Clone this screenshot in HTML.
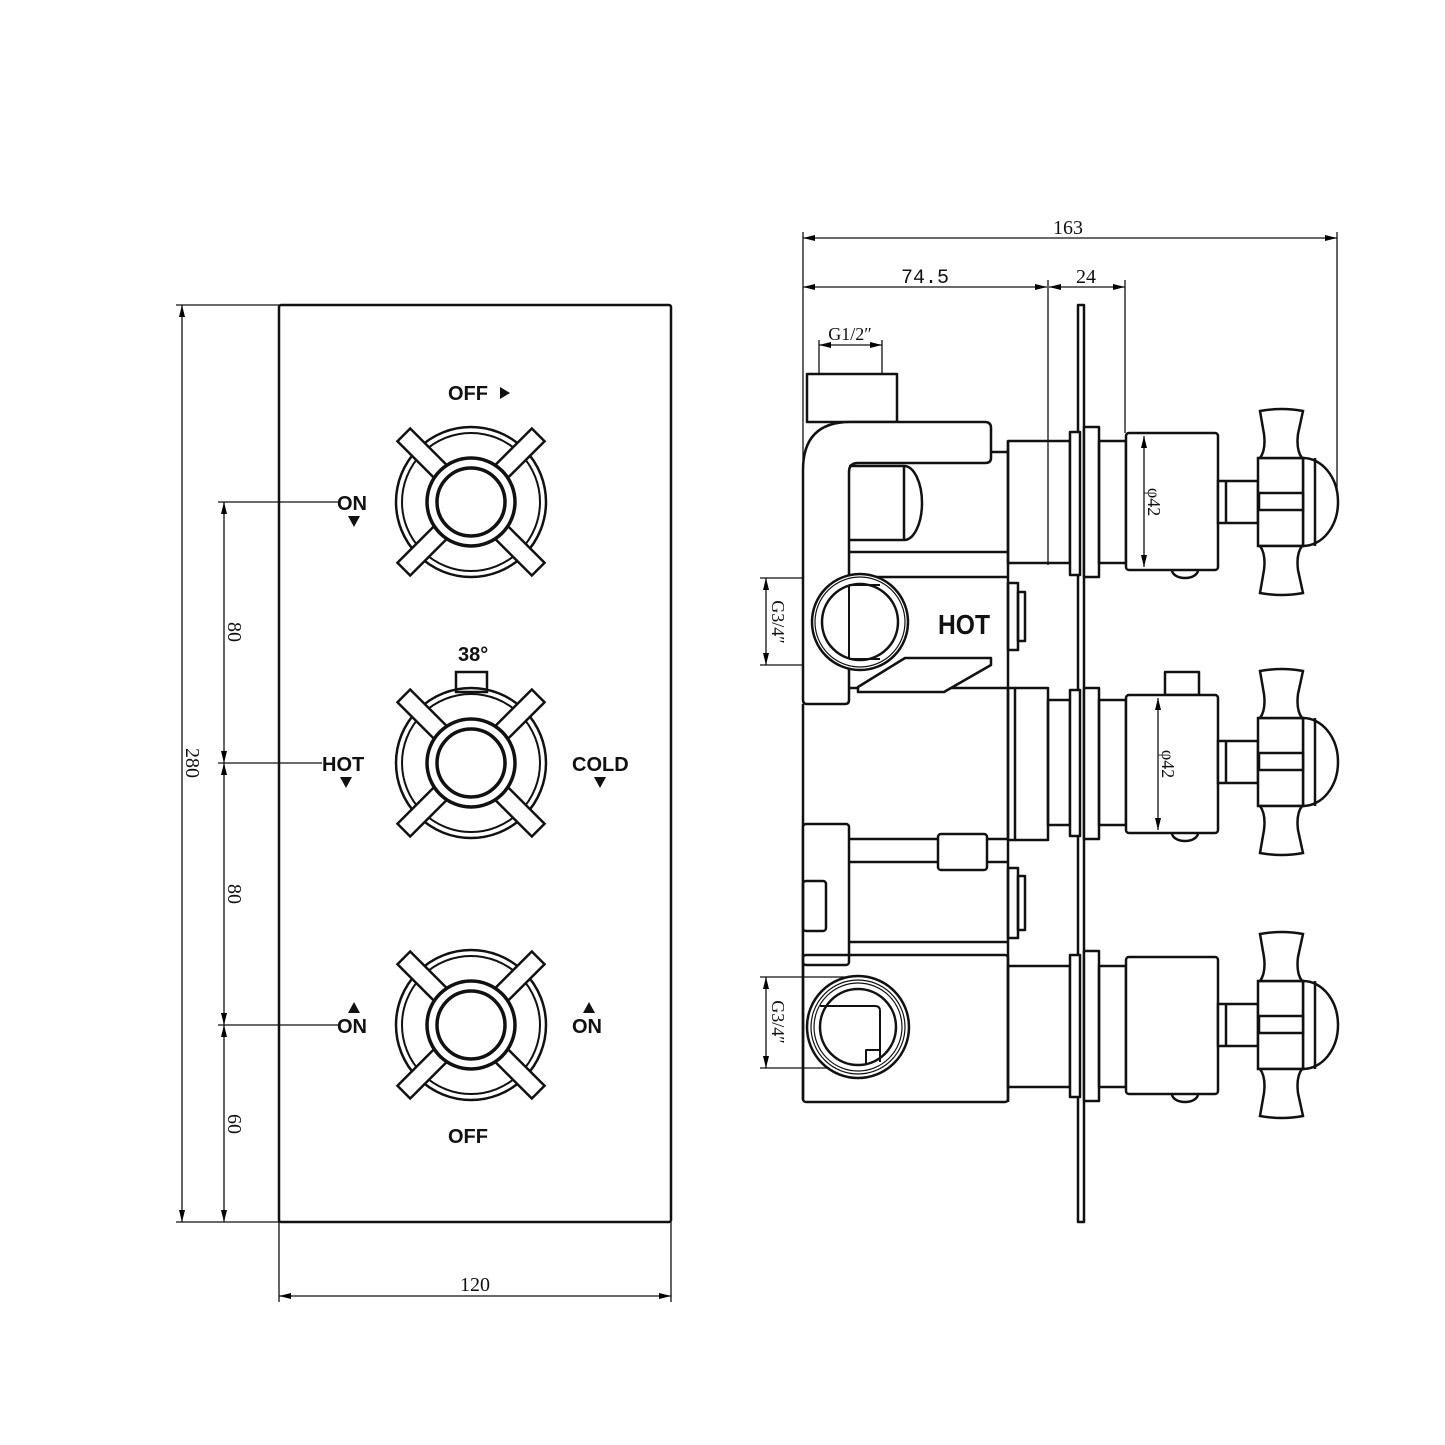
<!DOCTYPE html>
<html><head><meta charset="utf-8"><style>
html,body{margin:0;padding:0;background:#fff}
svg{display:block}
.t{font-family:"Liberation Sans",sans-serif;font-weight:bold;font-size:20px;fill:#111}
.d{font-family:"Liberation Serif",serif;font-size:20px;fill:#111}
</style></head><body>
<svg width="1445" height="1445" viewBox="0 0 1445 1445" xmlns="http://www.w3.org/2000/svg">
<defs>
<marker id="a" viewBox="0 0 12 6" refX="12" refY="3" markerWidth="12" markerHeight="6" orient="auto-start-reverse" markerUnits="userSpaceOnUse"><path d="M0,0L12,3L0,6z" fill="#000"/></marker>
<g id="knob" fill="none" stroke="#111">
<circle r="75" stroke-width="2.5"/><circle r="69" stroke-width="2"/>
<g fill="#fff" stroke-width="2.5">
<rect x="-9" y="-95" width="18" height="52" transform="rotate(45)"/>
<rect x="-9" y="-95" width="18" height="52" transform="rotate(-45)"/>
<rect x="-9" y="-95" width="18" height="52" transform="rotate(135)"/>
<rect x="-9" y="-95" width="18" height="52" transform="rotate(-135)"/>
</g>
<circle r="44" stroke-width="3.5" fill="#fff"/><circle r="34" stroke-width="3.5"/>
</g>
<g id="handle" fill="#fff" stroke="#111" stroke-width="2.5">
<rect x="1218" y="-21" width="40" height="42"/><line x1="1226" y1="-21" x2="1226" y2="21"/>
<path d="M1303,-44 A35,44 0 0 1 1303,44 Z"/>
<rect x="1258" y="-44" width="45" height="88"/>
<line x1="1315" y1="-44" x2="1315" y2="44"/>
<rect x="1259" y="-9" width="44" height="17"/>
<path d="M1260,-91 Q1282,-95 1303,-91 L1298,-68 Q1296,-52 1302,-44 L1260,-44 Q1266,-52 1264,-68 Z"/>
<path d="M1260,91 Q1282,95 1303,91 L1298,68 Q1296,52 1302,44 L1260,44 Q1266,52 1264,68 Z"/>
</g>
</defs>

<!-- LEFT VIEW -->
<rect x="279" y="305" width="392" height="917" rx="2" fill="none" stroke="#111" stroke-width="2.5"/>
<use href="#knob" x="471" y="502"/>
<rect x="456" y="672" width="31" height="20" fill="#fff" stroke="#111" stroke-width="2.5"/>
<use href="#knob" x="471" y="763"/>
<use href="#knob" x="471" y="1025"/>

<text class="t" x="448" y="400">OFF</text><path d="M500,387 L510,393 L500,399z" fill="#111"/>
<text class="t" x="337" y="510">ON</text><path d="M348,516 L360,516 L354,527z" fill="#111"/>
<text class="t" x="458" y="661">38°</text>
<text class="t" x="322" y="771">HOT</text><path d="M340,777 L352,777 L346,788z" fill="#111"/>
<text class="t" x="572" y="771">COLD</text><path d="M594,777 L606,777 L600,788z" fill="#111"/>
<path d="M348,1013 L360,1013 L354,1002z" fill="#111"/><text class="t" x="337" y="1033">ON</text>
<path d="M583,1013 L595,1013 L589,1002z" fill="#111"/><text class="t" x="572" y="1033">ON</text>
<text class="t" x="448" y="1143">OFF</text>

<g stroke="#111" stroke-width="1.3" fill="none">
<line x1="176" y1="305" x2="279" y2="305"/><line x1="176" y1="1222" x2="279" y2="1222"/>
<line x1="182" y1="305" x2="182" y2="1222" marker-start="url(#a)" marker-end="url(#a)"/>
<line x1="218" y1="502" x2="338" y2="502"/><line x1="218" y1="763" x2="322" y2="763"/><line x1="218" y1="1025" x2="338" y2="1025"/>
<line x1="224" y1="502" x2="224" y2="763" marker-start="url(#a)" marker-end="url(#a)"/>
<line x1="224" y1="763" x2="224" y2="1025" marker-start="url(#a)" marker-end="url(#a)"/>
<line x1="224" y1="1025" x2="224" y2="1222" marker-start="url(#a)" marker-end="url(#a)"/>
<line x1="279" y1="1222" x2="279" y2="1302"/><line x1="671" y1="1222" x2="671" y2="1302"/>
<line x1="279" y1="1296" x2="671" y2="1296" marker-start="url(#a)" marker-end="url(#a)"/>
</g>
<text class="d" transform="translate(186,763) rotate(90)" text-anchor="middle">280</text>
<text class="d" transform="translate(228,632) rotate(90)" text-anchor="middle">80</text>
<text class="d" transform="translate(228,894) rotate(90)" text-anchor="middle">80</text>
<text class="d" transform="translate(228,1124) rotate(90)" text-anchor="middle">60</text>
<text class="d" x="475" y="1291" text-anchor="middle">120</text>

<!-- RIGHT VIEW dims -->
<g stroke="#111" stroke-width="1.3" fill="none">
<line x1="803" y1="232" x2="803" y2="460"/>
<line x1="1337" y1="232" x2="1337" y2="490"/>
<line x1="803" y1="238" x2="1337" y2="238" marker-start="url(#a)" marker-end="url(#a)"/>
<line x1="803" y1="287" x2="1047" y2="287" marker-start="url(#a)" marker-end="url(#a)"/>
<line x1="1049" y1="287" x2="1125" y2="287" marker-start="url(#a)" marker-end="url(#a)"/>
<line x1="1048" y1="280" x2="1048" y2="565"/>
<line x1="1125" y1="280" x2="1125" y2="433"/>
<line x1="819" y1="340" x2="819" y2="374"/><line x1="882" y1="340" x2="882" y2="374"/>
<line x1="819" y1="345" x2="882" y2="345" marker-start="url(#a)" marker-end="url(#a)"/>
<line x1="760" y1="578" x2="860" y2="578"/><line x1="760" y1="665" x2="860" y2="665"/>
<line x1="766" y1="578" x2="766" y2="665" marker-start="url(#a)" marker-end="url(#a)"/>
<line x1="760" y1="977" x2="860" y2="977"/><line x1="760" y1="1068" x2="860" y2="1068"/>
<line x1="766" y1="977" x2="766" y2="1068" marker-start="url(#a)" marker-end="url(#a)"/>
</g>
<text class="d" x="1068" y="234" text-anchor="middle">163</text>
<text class="d" x="925" y="283" text-anchor="middle" style="font-family:'Liberation Mono',monospace">74.5</text>
<text class="d" x="1086" y="283" text-anchor="middle">24</text>
<text class="d" x="850" y="340" text-anchor="middle" style="font-size:18px">G1/2″</text>
<text class="d" transform="translate(772,622) rotate(90)" text-anchor="middle" style="font-size:18px">G3/4″</text>
<text class="d" transform="translate(772,1022) rotate(90)" text-anchor="middle" style="font-size:18px">G3/4″</text>

<!-- RIGHT VIEW body -->
<g fill="none" stroke="#111" stroke-width="2.5" stroke-linejoin="round">
<rect x="1078" y="305" width="6" height="917" fill="#fff"/>
<rect x="807" y="374" width="90" height="48"/>
<path d="M803,700 L803,470 Q803,422 850,422 L985,422 Q991,422 991,428 L991,458 Q991,463 985,463 L858,463 Q849,463 849,472 L849,700 Q849,704 845,704 L807,704 Q803,704 803,700 Z" fill="#fff"/>
<line x1="991" y1="452" x2="1008" y2="452"/>
<path d="M849,466 L904,466 A18,37 0 0 1 904,540 L849,540"/>
<line x1="904" y1="466" x2="904" y2="540"/>
<line x1="849" y1="552" x2="1008" y2="552"/>
<line x1="849" y1="577" x2="1008" y2="577"/>
<line x1="849" y1="688" x2="1008" y2="688"/>
<path d="M905,658 L991,658 L991,665 L944,692 L858,692 L858,687 Z" fill="#fff"/>
<rect x="1008" y="583" width="10" height="67"/><rect x="1018" y="592" width="7" height="49"/>
<line x1="803" y1="704" x2="803" y2="1100"/>
<line x1="1008" y1="441" x2="1008" y2="1102"/>
<circle cx="860" cy="622" r="48" fill="#fff"/><circle cx="860" cy="622" r="45" stroke-width="1.2"/><circle cx="860" cy="622" r="38"/>
<path d="M849,585 L849,659 M849,585 L880,585 M849,659 L880,659" stroke-width="2"/>
<text x="938" y="634" textLength="52" lengthAdjust="spacingAndGlyphs" style="font-family:'Liberation Sans',sans-serif;font-weight:bold;font-size:28px;fill:#111;stroke:none">HOT</text>
<rect x="803" y="824" width="46" height="141" rx="3" fill="#fff"/>
<rect x="803" y="881" width="23" height="50" rx="3"/>
<line x1="849" y1="839" x2="938" y2="839"/><line x1="849" y1="862" x2="938" y2="862"/>
<rect x="938" y="834" width="49" height="36" rx="3" fill="#fff"/>
<line x1="987" y1="839" x2="1008" y2="839"/><line x1="987" y1="862" x2="1008" y2="862"/>
<line x1="849" y1="942" x2="1008" y2="942"/>
<rect x="1008" y="868" width="10" height="70"/><rect x="1018" y="876" width="7" height="54"/>
<rect x="803" y="955" width="205" height="147" rx="3"/>
<circle cx="858" cy="1027" r="51" fill="#fff"/><circle cx="858" cy="1027" r="47" stroke-width="1.2"/><circle cx="858" cy="1027" r="44" stroke-width="1.2"/><circle cx="858" cy="1027" r="38"/>
<path d="M820,1006 L875,1006 Q880,1006 880,1011 L880,1062" stroke-width="2"/>
<path d="M866,1064 L866,1050 L880,1050" stroke-width="2"/>
<rect x="1008" y="441" width="62" height="122"/>
<rect x="1070" y="432" width="10" height="143" fill="#fff"/><rect x="1084" y="427" width="15" height="150" fill="#fff"/>
<rect x="1099" y="441" width="27" height="122"/>
<rect x="1126" y="433" width="92" height="137" rx="3" fill="#fff"/>
<path d="M1172,570 A13,8 0 0 0 1198,570"/>

<rect x="1008" y="688" width="40" height="152"/><line x1="1015" y1="688" x2="1015" y2="840"/>
<rect x="1048" y="700" width="22" height="125"/>
<rect x="1070" y="690" width="10" height="146" fill="#fff"/><rect x="1084" y="688" width="15" height="151" fill="#fff"/>
<rect x="1099" y="700" width="27" height="125"/>
<rect x="1165" y="672" width="34" height="23"/>
<rect x="1126" y="695" width="92" height="138" rx="3" fill="#fff"/>
<path d="M1172,833 A13,8 0 0 0 1198,833"/>

<rect x="1008" y="966" width="62" height="121"/>
<rect x="1070" y="955" width="10" height="142" fill="#fff"/><rect x="1084" y="951" width="15" height="150" fill="#fff"/>
<rect x="1099" y="966" width="27" height="121"/>
<rect x="1126" y="957" width="92" height="137" rx="3" fill="#fff"/>
<path d="M1172,1094 A13,8 0 0 0 1198,1094"/>
</g>
<g stroke="#111" stroke-width="1.3">
<line x1="1144" y1="436" x2="1144" y2="567" marker-start="url(#a)" marker-end="url(#a)"/>
<line x1="1158" y1="698" x2="1158" y2="830" marker-start="url(#a)" marker-end="url(#a)"/>
</g>
<text class="d" transform="translate(1148,502) rotate(90)" text-anchor="middle" style="font-size:18px">φ42</text>
<text class="d" transform="translate(1162,764) rotate(90)" text-anchor="middle" style="font-size:18px">φ42</text>
<use href="#handle" x="0" y="502"/>
<use href="#handle" x="0" y="762"/>
<use href="#handle" x="0" y="1025"/>
</svg>
</body></html>
